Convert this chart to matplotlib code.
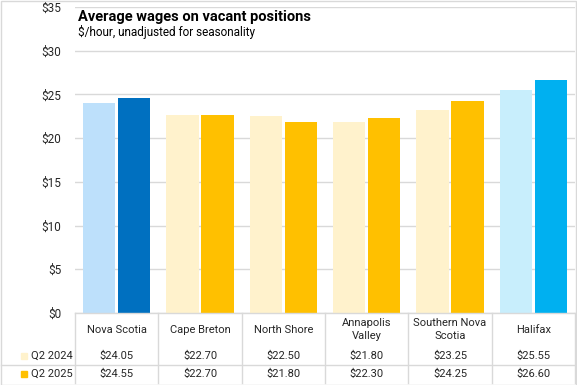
import matplotlib.pyplot as plt
import matplotlib.transforms as mtransforms
from matplotlib.patches import Rectangle

# data
regions = ["Nova Scotia", "Cape Breton", "North Shore", "Annapolis\nValley",
           "Southern Nova\nScotia", "Halifax"]
q2_2024 = [24.05, 22.70, 22.50, 21.80, 23.25, 25.55]
q2_2025 = [24.55, 22.70, 21.80, 22.30, 24.25, 26.60]
series_names = ["Q2 2024", "Q2 2025"]

light_cols = ["#BDE0FB", "#FFF2CC", "#FFF2CC", "#FFF2CC", "#FFF2CC", "#C8EEFC"]
dark_cols = ["#0070C0", "#FFC000", "#FFC000", "#FFC000", "#FFC000", "#00B0F0"]

plt.rcParams['font.family'] = ['Roboto', 'DejaVu Sans']

fig = plt.figure(figsize=(5.77, 3.85), dpi=100)
ax = fig.add_axes([75/577, 72/385, 500/577, 306/385])

x = list(range(len(regions)))
w = 0.385
ax.bar([i - 0.21 for i in x], q2_2024, width=w, color=light_cols, zorder=3)
ax.bar([i + 0.21 for i in x], q2_2025, width=w, color=dark_cols, zorder=3)

ax.set_xlim(-0.5, 5.5)
ax.set_ylim(0, 35)
ax.set_yticks(range(0, 36, 5))
ax.set_yticklabels(["$%d" % v for v in range(0, 36, 5)], fontsize=8.5, color="#262626")
ax.tick_params(axis="y", length=0, pad=10)
ax.set_xticks([])
ax.grid(axis="y", color="#D9D9D9", linewidth=1, zorder=0)
for s in ax.spines.values():
    s.set_visible(False)

ax.text(0.005, 0.966, "Average wages on vacant positions", transform=ax.transAxes,
        fontsize=10.5, fontweight="bold", color="#000000", va="center")
ax.text(0.005, 0.918, "$/hour, unadjusted for seasonality", transform=ax.transAxes,
        fontsize=8.5, color="#000000", va="center")

# data table under the chart
trans = mtransforms.blended_transform_factory(ax.transData, ax.transAxes)
line_col = "#D9D9D9"
y_top, y_mid, y_bot = 0.0, -0.17, -0.229
for b in [i - 0.5 for i in range(len(regions) + 1)]:
    ax.plot([b, b], [y_top, y_bot], transform=trans, color=line_col, lw=1, clip_on=False)
ax.plot([-0.5, 5.5], [y_top, y_top], transform=trans, color=line_col, lw=1, clip_on=False, zorder=4)
ax.plot([-1.39, 5.5], [y_mid, y_mid], transform=trans, color=line_col, lw=1, clip_on=False)

for i, r in enumerate(regions):
    ax.text(i, -0.054, r, transform=trans, ha="center", va="center", fontsize=8,
            color="#262626", linespacing=1.3)
    ax.text(i, -0.14, "$%.2f" % q2_2024[i], transform=trans, ha="center", va="center",
            fontsize=8, color="#262626")
    ax.text(i, -0.199, "$%.2f" % q2_2025[i], transform=trans, ha="center", va="center",
            fontsize=8, color="#262626")

for yy, name, col in [(-0.14, series_names[0], "#FFF2CC"), (-0.199, series_names[1], "#FFC000")]:
    fig.patches.append(Rectangle((21/577, (385 - (313 - yy*306) - 3)/385), 6/577, 6/385,
                                 transform=fig.transFigure, color=col))
    fig.text(31/577, (385 - (313 - yy*306))/385, name, fontsize=8, color="#262626", va="center")

fig.patches.append(Rectangle((0.5/577, 0.5/385), 575.5/577, 383.5/385, transform=fig.transFigure,
                             fill=False, edgecolor="#D9D9D9", lw=1))

fig.savefig("out.png", dpi=100)
